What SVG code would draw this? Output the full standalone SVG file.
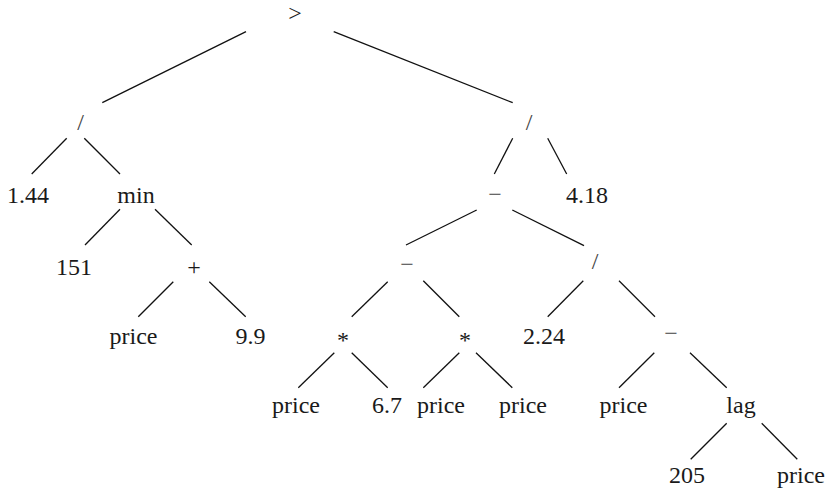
<svg xmlns="http://www.w3.org/2000/svg" width="830" height="500" viewBox="0 0 830 500">
<style>
  text { font-family: "Liberation Serif", "Times New Roman", serif; font-size: 24px; fill: #1a1a1a; text-anchor: middle; }
  .op { fill: #444; }
  #edges line { stroke: #111; stroke-width: 1.3; stroke-linecap: butt; }
</style>
<rect width="830" height="500" fill="#ffffff"/>
<g id="edges">
  <line x1="246" y1="31.7" x2="102.3" y2="102.7"/>
  <line x1="333.7" y1="31.7" x2="512.7" y2="102.7"/>
  <line x1="66.7" y1="138.3" x2="31.7" y2="174"/>
  <line x1="84.3" y1="138.3" x2="120" y2="174"/>
  <line x1="120" y1="209.3" x2="85" y2="245"/>
  <line x1="155" y1="209.3" x2="191.7" y2="245"/>
  <line x1="173.3" y1="281.7" x2="138.3" y2="316.7"/>
  <line x1="209.3" y1="281.7" x2="245.7" y2="316.7"/>
  <line x1="512.7" y1="138.3" x2="494.3" y2="174"/>
  <line x1="547.7" y1="138.3" x2="566.7" y2="174"/>
  <line x1="476.7" y1="210" x2="406" y2="245"/>
  <line x1="512.3" y1="210" x2="584" y2="245.7"/>
  <line x1="387.7" y1="281.7" x2="351.7" y2="316.7"/>
  <line x1="423.3" y1="280.7" x2="459.3" y2="316.7"/>
  <line x1="583.3" y1="280.7" x2="547.7" y2="316.7"/>
  <line x1="619" y1="280.7" x2="655" y2="316.7"/>
  <line x1="334.3" y1="352.7" x2="298.3" y2="387.7"/>
  <line x1="351.7" y1="352.7" x2="387.7" y2="387.7"/>
  <line x1="459.3" y1="352.7" x2="423.3" y2="387.7"/>
  <line x1="476" y1="352.7" x2="512.3" y2="387.7"/>
  <line x1="654.3" y1="352.7" x2="619" y2="387.7"/>
  <line x1="690" y1="352.7" x2="726.7" y2="387.7"/>
  <line x1="726.7" y1="423.3" x2="690.7" y2="459.3"/>
  <line x1="761.7" y1="423.3" x2="797.3" y2="459.3"/>
</g>
<g id="n_root"><text x="295" y="21">&gt;</text></g>
<g id="n_div_l"><text class="op" x="80.5" y="130">/</text></g>
<g id="n_div_r"><text class="op" x="529" y="130">/</text></g>
<g id="n_1_44"><text x="28" y="203">1.44</text></g>
<g id="n_min"><text x="136" y="203">min</text></g>
<g id="n_minus_a"><text class="op" x="495" y="202">−</text></g>
<g id="n_4_18"><text x="587" y="203">4.18</text></g>
<g id="n_151"><text x="74" y="275">151</text></g>
<g id="n_plus"><text x="194" y="275">+</text></g>
<g id="n_minus_b"><text class="op" x="407" y="272">−</text></g>
<g id="n_div_b"><text class="op" x="595" y="269">/</text></g>
<g id="n_price_1"><text x="133.5" y="344">price</text></g>
<g id="n_9_9"><text x="250.5" y="344">9.9</text></g>
<g id="n_mul_a"><text x="343" y="348">*</text></g>
<g id="n_mul_b"><text x="465" y="348">*</text></g>
<g id="n_2_24"><text x="544" y="344">2.24</text></g>
<g id="n_minus_c"><text class="op" x="671" y="341">−</text></g>
<g id="n_price_2"><text x="296" y="413">price</text></g>
<g id="n_6_7"><text x="387" y="413">6.7</text></g>
<g id="n_price_3"><text x="441" y="413">price</text></g>
<g id="n_price_4"><text x="523" y="413">price</text></g>
<g id="n_price_5"><text x="623.5" y="413">price</text></g>
<g id="n_lag"><text x="741" y="413">lag</text></g>
<g id="n_205"><text x="687" y="483">205</text></g>
<g id="n_price_6"><text x="801" y="483">price</text></g>
</svg>
